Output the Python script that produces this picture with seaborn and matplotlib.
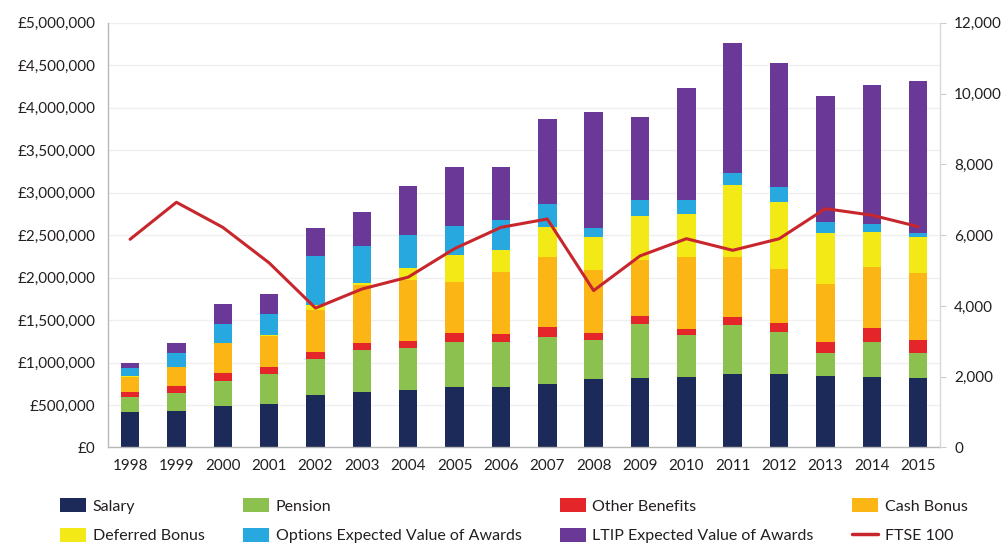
import numpy as np
import matplotlib
matplotlib.use("Agg")
import matplotlib.pyplot as plt
import seaborn as sns
from matplotlib.patches import Patch
from matplotlib.lines import Line2D
from matplotlib.ticker import FuncFormatter, MultipleLocator

# Executive pay components, £ thousands per year
years = [str(y) for y in range(1998, 2016)]
salary = [415, 435, 490, 514, 616, 651, 671, 710, 710, 745, 808, 816, 824, 867, 863, 843, 835, 816]
pension = [175, 212, 287, 353, 423, 498, 498, 529, 529, 561, 459, 635, 502, 576, 502, 275, 412, 294]
other_benefits = [60, 82, 105, 86, 83, 86, 86, 106, 94, 110, 86, 102, 74, 98, 98, 129, 157, 157]
cash_bonus = [180, 214, 343, 363, 498, 679, 718, 608, 730, 831, 737, 655, 847, 706, 635, 675, 726, 792]
deferred_bonus = [15, 10, 10, 10, 59, 20, 145, 314, 263, 353, 385, 518, 498, 844, 789, 600, 411, 416]
options_value = [95, 157, 216, 247, 576, 443, 384, 341, 353, 267, 114, 188, 169, 137, 176, 137, 87, 55]
ltip_value = [60, 125, 235, 231, 334, 400, 577, 690, 619, 1004, 1360, 973, 1322, 1537, 1467, 1483, 1639, 1788]

# FTSE 100 year-end level
ftse = [5883, 6930, 6222, 5217, 3940, 4477, 4814, 5619, 6221, 6457, 4434, 5413, 5900, 5572, 5898, 6749, 6566, 6242]

components = [
    ("Salary", salary, "#1c2a5a"),
    ("Pension", pension, "#8cc04f"),
    ("Other Benefits", other_benefits, "#e42529"),
    ("Cash Bonus", cash_bonus, "#fbb616"),
    ("Deferred Bonus", deferred_bonus, "#f3e916"),
    ("Options Expected Value of Awards", options_value, "#27a9e0"),
    ("LTIP Expected Value of Awards", ltip_value, "#6a3896"),
]
ftse_color = "#c8262d"
text_color = "#231f20"

sns.set_theme(style="white")
plt.rcParams["font.family"] = ["Lato", "DejaVu Sans"]

fig = plt.figure(figsize=(10.05, 5.45), dpi=100)
ax = fig.add_axes([0.1075, 0.179, 0.828, 0.779])

# Stacked bars: draw running totals from the tallest layer down
running = np.zeros(len(years))
stacks = []
for name, vals, color in components:
    running = running + np.asarray(vals, dtype=float)
    stacks.append((name, running.copy(), color))

for name, top, color in reversed(stacks):
    sns.barplot(x=years, y=top, color=color, width=0.4, saturation=1,
                errorbar=None, linewidth=0, ax=ax)

ax.set_ylim(0, 5000)
ax.set_xlim(-0.475, len(years) - 0.525)
ax.yaxis.set_major_locator(MultipleLocator(500))
ax.yaxis.set_major_formatter(FuncFormatter(lambda v, p: "£0" if v == 0 else f"£{v * 1000:,.0f}"))
ax.set_axisbelow(True)
ax.yaxis.grid(True, color="#efefef", linewidth=0.9)
ax.xaxis.grid(False)
ax.set_xlabel("")
ax.set_ylabel("")
ax.tick_params(axis="y", length=0, pad=9, labelsize=11, labelcolor=text_color)
ax.tick_params(axis="x", length=0, pad=8, labelsize=11, labelcolor=text_color)
for side in ("top", "right"):
    ax.spines[side].set_visible(False)
for side in ("left", "bottom"):
    ax.spines[side].set_color("#b8b8b8")
    ax.spines[side].set_linewidth(1.0)

# FTSE 100 on the secondary axis
ax2 = ax.twinx()
sns.lineplot(x=np.arange(len(years)), y=ftse, color=ftse_color, linewidth=2.2, ax=ax2)
ax2.set_ylim(0, 12000)
ax2.set_xlim(ax.get_xlim())
ax2.yaxis.set_major_locator(MultipleLocator(2000))
ax2.yaxis.set_major_formatter(FuncFormatter(lambda v, p: f"{v:,.0f}"))
ax2.set_ylabel("")
ax2.tick_params(axis="y", length=4, width=0.8, color="#cccccc", pad=6, labelsize=11, labelcolor=text_color)
for side in ("top", "left", "bottom"):
    ax2.spines[side].set_visible(False)
ax2.spines["right"].set_color("#d8d8d8")
ax2.spines["right"].set_linewidth(1.0)

# Legend below the plot, four columns filled column by column
patches = {name: Patch(facecolor=color, edgecolor="none") for name, _, color in components}
ftse_handle = Line2D([], [], color=ftse_color, linewidth=2.5)
order = ["Salary", "Deferred Bonus", "Pension", "Options Expected Value of Awards",
         "Other Benefits", "LTIP Expected Value of Awards", "Cash Bonus"]
handles = [patches[n] for n in order] + [ftse_handle]
labels = order + ["FTSE 100"]
fig.legend(handles, labels, loc="center", bbox_to_anchor=(0.0597, 0.0445, 0.903, 0.0),
           mode="expand", ncol=4, frameon=False, fontsize=11.5, handlelength=1.65,
           handleheight=0.95, handletextpad=0.4, labelspacing=0.9, borderaxespad=0,
           borderpad=0, labelcolor=text_color)

fig.savefig("out.png", dpi=100)
